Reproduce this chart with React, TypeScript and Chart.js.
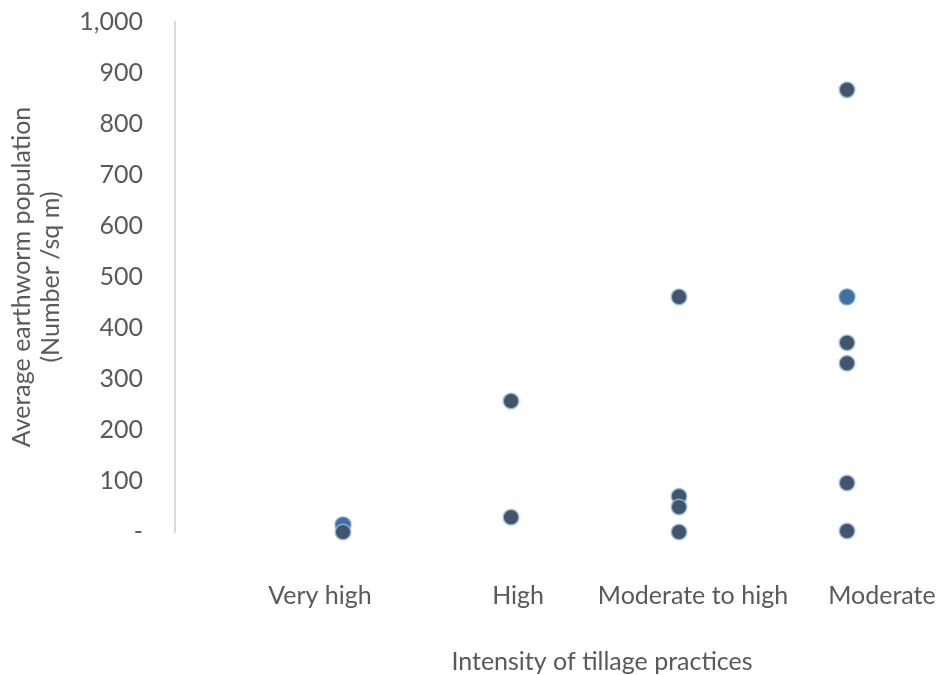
import React, { useEffect, useRef } from "react";
import { Chart, registerables } from "chart.js";

Chart.register(...registerables);

const categories = ["Very high", "High", "Moderate to high", "Moderate"];
// series A (lighter blue points): category index (1-based) and value
const blueX = [1, 4];
const blueY = [14, 461];
// series B (dark slate points)
const darkX = [1, 2, 2, 3, 3, 3, 3, 4, 4, 4, 4, 4];
const darkY = [0, 257, 29, 461, 70, 49, 0, 867, 371, 331, 96, 2];
const yTicks = [0, 100, 200, 300, 400, 500, 600, 700, 800, 900, 1000];

// label anchor positions along the x scale (category labels are offset in the source)
const labelAnchors = [0.863, 2.042, 3.083, 4.208];

const FONT = "Lato";
const TEXT = "#595959";

export default function App() {
  const ref = useRef<HTMLCanvasElement | null>(null);
  useEffect(() => {
    const canvas = ref.current;
    if (!canvas) return;
    const chart = new Chart(canvas, {
      type: "scatter",
      data: {
        datasets: [
          {
            label: "B",
            data: darkX.map((x, i) => ({ x, y: darkY[i] })),
            backgroundColor: "#44546A",
            borderColor: "rgba(150,190,230,0.9)",
            borderWidth: 1.5,
            pointRadius: 7.8,
            clip: false,
          },
          {
            label: "A",
            data: blueX.map((x, i) => ({ x, y: blueY[i] })),
            backgroundColor: "#3F70A0",
            borderColor: "rgba(110,160,215,0.9)",
            borderWidth: 1.5,
            pointRadius: 7.8,
            clip: false,
          },
        ],
      },
      options: {
        animation: false,
        responsive: false,
        maintainAspectRatio: false,
        layout: { padding: { top: 22, right: 11, left: 0, bottom: 0 } },
        plugins: { legend: { display: false }, tooltip: { enabled: false } },
        scales: {
          x: {
            type: "linear",
            min: 0,
            max: 5.083,
            grid: { display: false, drawTicks: false },
            border: { display: false },
            afterBuildTicks: (scale: any) => {
              scale.ticks = labelAnchors.map((v) => ({ value: v }));
            },
            afterFit: (scale: any) => {
              scale.height = 143;
              scale.paddingLeft = 0;
              scale.paddingRight = 0;
            },
            ticks: {
              autoSkip: false,
              maxRotation: 0,
              padding: 49,
              color: TEXT,
              font: { family: FONT, size: 25 },
              callback: (_v: any, i: number) => categories[i],
            },
            title: {
              display: true,
              text: "Intensity of tillage practices",
              color: TEXT,
              font: { family: FONT, size: 25, lineHeight: 1.2 },
              padding: { top: 0, bottom: -2 },
            },
          },
          y: {
            min: 0,
            max: 1000,
            grid: { display: false, drawTicks: false },
            border: { display: true, color: "#D9D9D9", width: 2 },
            afterBuildTicks: (scale: any) => {
              scale.ticks = yTicks.map((v) => ({ value: v }));
            },
            afterFit: (scale: any) => {
              scale.width = 175;
              scale.paddingTop = 0;
              scale.paddingBottom = 0;
            },
            ticks: {
              padding: 32,
              color: TEXT,
              font: { family: FONT, size: 25 },
              callback: (v: any) => (Number(v) === 0 ? "-" : Number(v).toLocaleString("en-US")),
            },
            title: {
              display: true,
              text: ["Average earthworm population", "(Number /sq m)"],
              color: TEXT,
              font: { family: FONT, size: 25, lineHeight: 1.16 },
              padding: { top: 7.5, bottom: 0 },
            },
          },
        },
      },
    });
    return () => chart.destroy();
  }, []);
  return (
    <div style={{ position: "absolute", left: 0, top: 0, width: 938, height: 675, overflow: "hidden", background: "#fff" }}>
      <canvas ref={ref} width={1040} height={675} style={{ width: 1040, height: 675, display: "block" }} />
    </div>
  );
}
